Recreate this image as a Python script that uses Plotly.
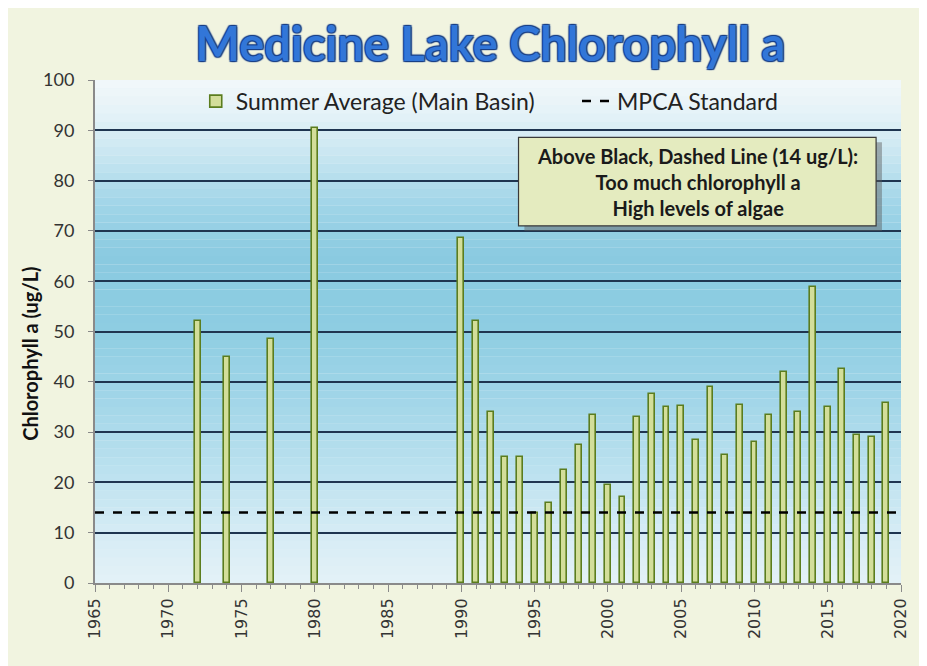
import plotly.graph_objects as go

years = [1972, 1974, 1977, 1980,
         1990, 1991, 1992, 1993, 1994, 1995, 1996, 1997, 1998, 1999,
         2000, 2001, 2002, 2003, 2004, 2005, 2006, 2007, 2008, 2009,
         2010, 2011, 2012, 2013, 2014, 2015, 2016, 2017, 2018, 2019]
chl = [52, 45, 48.5, 90.5,
       68.5, 52, 34, 25, 25, 14, 16, 22.5, 27.5, 33.5,
       19.5, 17, 33, 37.5, 35, 35.2, 28.5, 39, 25.5, 35.3,
       28, 33.5, 42, 34, 58.8, 35, 42.5, 29.5, 29, 35.8]
std_x = [1965, 2020]
std_y = [14, 14]
x_ticks = list(range(1965, 2021, 5))
y_ticks = list(range(0, 101, 10))

fig = go.Figure()
fig.add_trace(go.Bar(
    x=years, y=chl, width=0.4, name="Summer Average (Main Basin)", legend="legend",
    marker=dict(color="#d3de9a", line=dict(color="#5b7d1e", width=1.6)),
))
fig.add_trace(go.Scatter(
    x=std_x, y=std_y, mode="lines", name="MPCA Standard", legend="legend2",
    line=dict(color="black", width=2.5, dash="dash"),
))

# gradient background
stops = [(0.0, (227, 241, 247)), (0.1, (214, 236, 245)), (0.2, (192, 227, 240)),
         (0.35, (164, 215, 233)), (0.5, (142, 205, 226)), (0.65, (138, 202, 224)),
         (0.75, (160, 213, 232)), (0.85, (200, 230, 241)), (0.93, (228, 242, 247)),
         (1.0, (242, 248, 250))]


def col(t):
    for (a, ca), (b, cb) in zip(stops[:-1], stops[1:]):
        if a <= t <= b:
            f = (t - a) / (b - a)
            c = [round(ca[i] + (cb[i] - ca[i]) * f) for i in range(3)]
            return "rgb(%d,%d,%d)" % tuple(c)
    return "rgb(242,248,250)"


shapes = []
N = 60
for i in range(N):
    y0 = i / N
    y1 = (i + 1) / N
    shapes.append(dict(type="rect", xref="x domain", yref="y domain", x0=0, x1=1,
                       y0=y0, y1=y1, fillcolor=col((y0 + y1) / 2),
                       line=dict(width=0), layer="below"))

# annotation box with shadow
shapes.append(dict(type="rect", xref="x", yref="y", x0=1994.3, x1=2018.7, y0=70.0, y1=87.6,
                   fillcolor="rgba(90,90,90,0.45)", line=dict(width=0), layer="above"))
shapes.append(dict(type="rect", xref="x", yref="y", x0=1993.9, x1=2018.3, y0=71.0, y1=88.6,
                   fillcolor="#e4ebbf", line=dict(color="#3a3a3a", width=1.2), layer="above"))

legend_font = dict(family="Lato", size=23, color="#222222")

fig.update_layout(
    width=919, height=658,
    margin=dict(l=87, r=26, t=72, b=83),
    paper_bgcolor="#f1f4e0",
    plot_bgcolor="#e2f1f7",
    font=dict(family="Lato, Open Sans, sans-serif", color="#222222"),
    title=dict(text="<b>Medicine Lake Chlorophyll a</b>", x=0.525, xanchor="center",
               y=0.945, yanchor="middle",
               font=dict(family="Lato", size=47, color="#3276d8",
                         shadow="1px 1px 1px #173e86, -1px -1px 1px #173e86, 1px -1px 1px #173e86, -1px 1px 1px #173e86")),
    showlegend=True,
    legend=dict(orientation="h", x=0.125, xanchor="left", y=0.958, yanchor="middle",
                bgcolor="rgba(0,0,0,0)", font=legend_font, itemwidth=30),
    legend2=dict(orientation="h", x=0.598, xanchor="left", y=0.958, yanchor="middle",
                 bgcolor="rgba(0,0,0,0)", font=legend_font, itemwidth=30),
    bargap=0,
    shapes=shapes,
    annotations=[dict(xref="x", yref="y", x=2006.1, y=79.8,
                      text="<b>Above Black, Dashed Line (14 ug/L):<br>Too much chlorophyll a<br>High levels of algae</b>",
                      showarrow=False, align="center",
                      font=dict(family="Lato", size=20, color="#1a1a1a")),
                 dict(xref="paper", yref="paper", x=-0.081, y=0.455, xanchor="center", yanchor="middle",
                      text="<b>Chlorophyll a (ug/L)</b>", textangle=-90, showarrow=False,
                      font=dict(family="Lato", size=20, color="#111111"))],
)

fig.update_xaxes(range=[1965, 2020], tickvals=x_ticks, ticktext=[str(v) for v in x_ticks],
                 tickangle=-90, tickfont=dict(family="DejaVu Sans", size=16, color="#333333"),
                 ticks="outside", ticklen=7, tickcolor="#8a8a8a",
                 minor=dict(dtick=1, tick0=1965, ticks="outside", ticklen=4, tickcolor="#8a8a8a", showgrid=False),
                 showline=True, linecolor="#8a8a8a", linewidth=2, showgrid=False, zeroline=False)
fig.update_yaxes(range=[0, 100], tickvals=y_ticks, tickfont=dict(family="Lato", size=18, color="#333333"),
                 ticks="outside", ticklen=5, tickcolor="#8a8a8a", ticklabelstandoff=10,
                 showline=True, linecolor="#8a8a8a", linewidth=2,
                 showgrid=True, gridcolor="#1f3550", gridwidth=1.5, zeroline=False)

fig.write_html("out.html")
